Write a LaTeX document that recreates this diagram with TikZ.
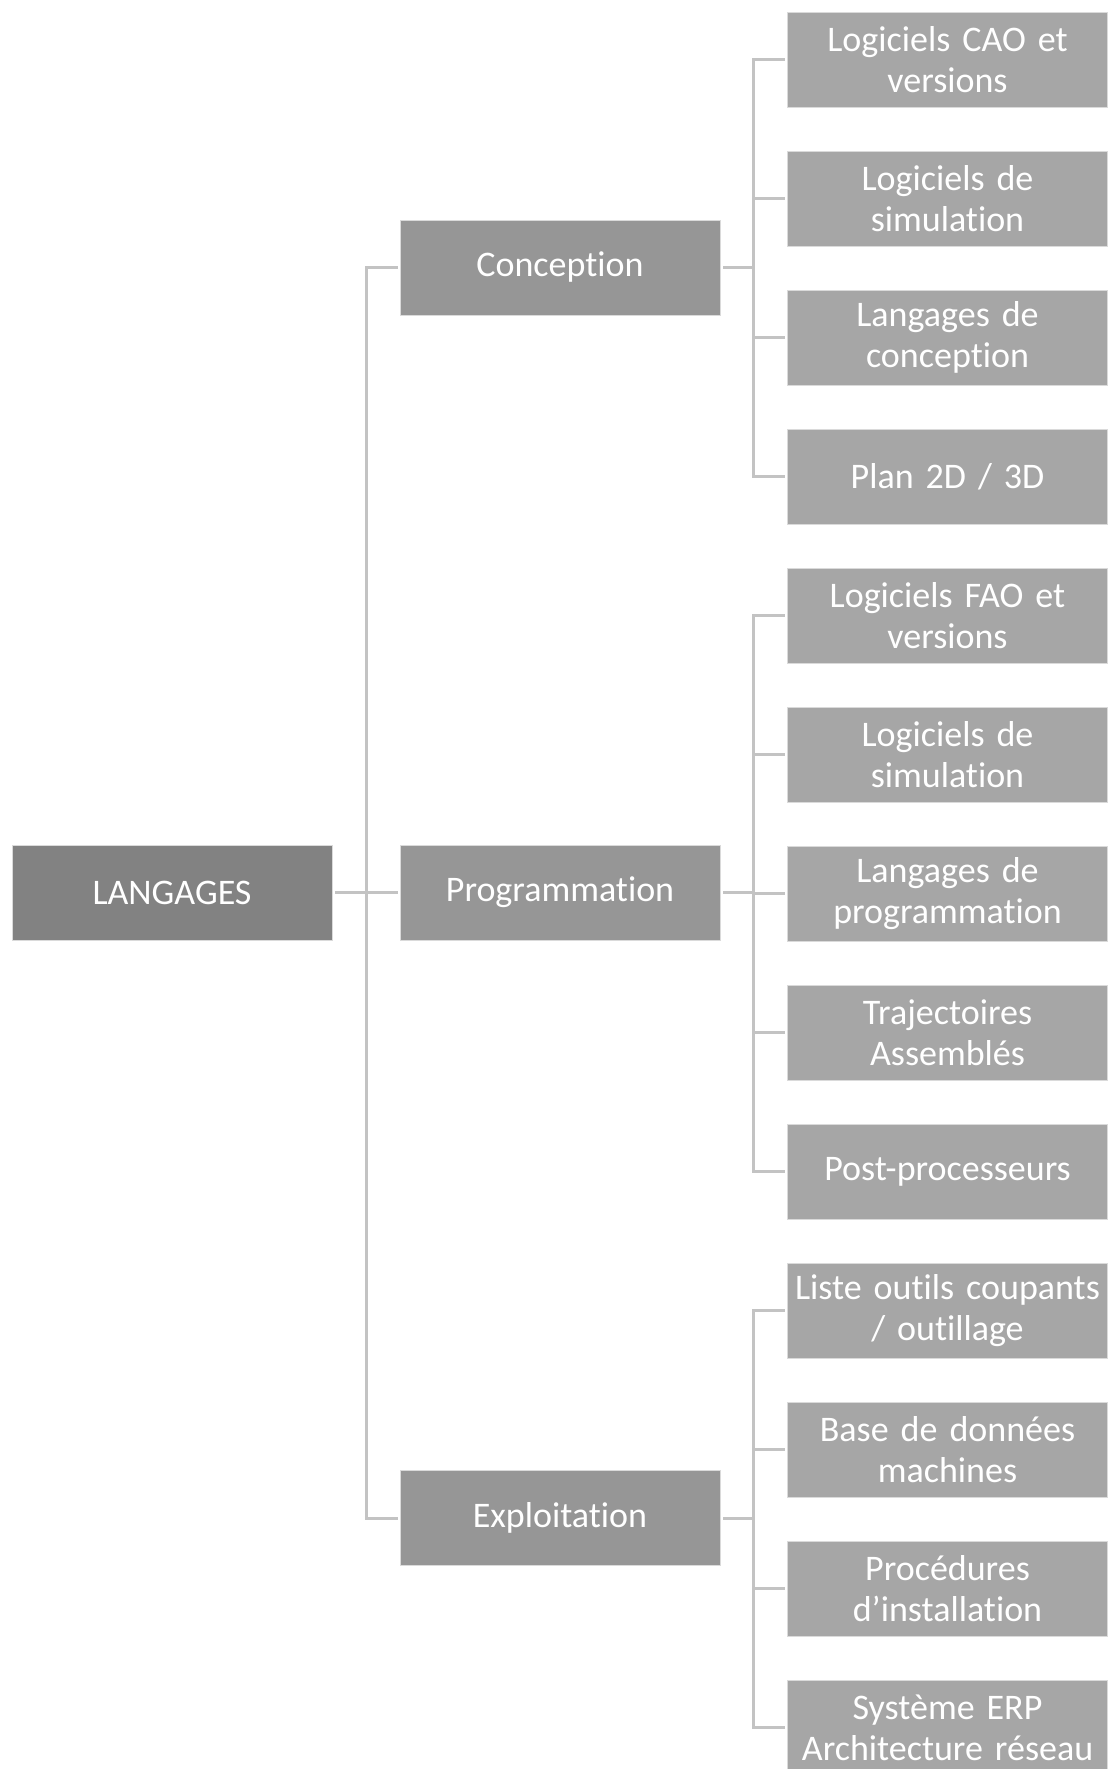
\documentclass[tikz,border=0pt]{standalone}
\usepackage{fontspec}
\setmainfont{Carlito}[Ligatures=NoCommon]
\definecolor{rootgray}{HTML}{828282}
\definecolor{midgray}{HTML}{969696}
\definecolor{leafgray}{HTML}{A6A6A6}
\definecolor{linkgray}{HTML}{C3C3C3}
\definecolor{edgegray}{HTML}{DADADA}
\begin{document}
\begin{tikzpicture}[x=1pt,y=-1pt,
  box/.style={rectangle, draw=edgegray, line width=0.8pt, inner sep=0pt,
    minimum width=320pt, minimum height=95pt, text width=318pt, align=center,
    text=white, font=\fontsize{36}{41}\selectfont},
  rootbox/.style={box, fill=rootgray},
  midbox/.style={box, fill=midgray},
  leafbox/.style={box, fill=leafgray},
  conn/.style={draw=linkgray, line width=3pt, shorten <=3pt, shorten >=2pt}]
\useasboundingbox (0,0) rectangle (1108,1769);

% root and the three branches
\node[rootbox] (root) at (172,892.5) {LANGAGES};
\node[midbox] (conc) at (560,267.5) {Conception};
\node[midbox] (prog) at (560,892.5) {Programmation};
\node[midbox] (expl) at (560,1518) {Exploitation};

% leaves, one row every 139pt
\foreach \i/\t in {0/{Logiciels CAO et\\versions},
                   1/{Logiciels de\\simulation},
                   2/{Langages de\\conception},
                   3/{Plan 2D / 3D},
                   4/{Logiciels FAO et\\versions},
                   5/{Logiciels de\\simulation},
                   6/{Langages de\\programmation},
                   7/{Trajectoires\\Assemblés},
                   8/{Post-processeurs},
                   9/{Liste outils coupants\\/ outillage},
                   10/{Base de données\\machines},
                   11/{Procédures\\d’installation},
                   12/{Système ERP\\Architecture réseau}}
  \node[leafbox] (leaf\i) at (947.5,59.5+139*\i) {\t};

% connectors from the root to each branch
\foreach \m in {conc,prog,expl}
  \draw[conn] (root.east) -- ++(34,0) |- (\m.west);

% connectors from each branch to its leaves
\foreach \i in {0,...,3}
  \draw[conn] (conc.east) -- ++(33,0) |- (leaf\i.west);
\foreach \i in {4,...,8}
  \draw[conn] (prog.east) -- ++(33,0) |- (leaf\i.west);
\foreach \i in {9,...,12}
  \draw[conn] (expl.east) -- ++(33,0) |- (leaf\i.west);
\end{tikzpicture}
\end{document}
